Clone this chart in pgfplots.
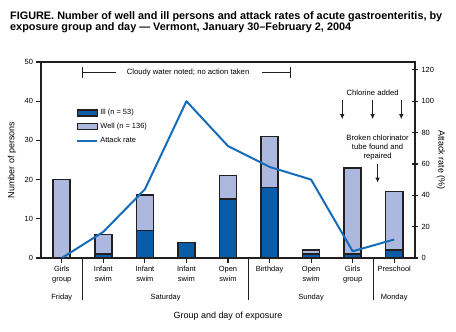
\documentclass[border=0pt]{standalone}
\usepackage{pgfplots}
\pgfplotsset{compat=1.18}
\usepackage{fontspec}
\setmainfont{Liberation Sans}
\usetikzlibrary{arrows.meta}

\definecolor{illblue}{RGB}{8,92,168}
\definecolor{wellblue}{RGB}{172,184,222}
\definecolor{ratecol}{RGB}{22,108,184}
\definecolor{edgecol}{RGB}{35,31,32}

\pgfplotsset{
  barill/.style={fill=illblue, draw=edgecol, line width=1.6bp},
  barwell/.style={fill=wellblue, draw=edgecol, line width=1.6bp},
}
\tikzset{annarrow/.style={line width=1.3bp, edgecol, -{Latex[length=5bp,width=4.5bp]}}}

\begin{document}
\begin{tikzpicture}
\path[use as bounding box] (0,0) rectangle (456bp,332bp);

% title
\node[anchor=base west, font=\bfseries\fontsize{10.9}{12}\selectfont, inner sep=0] at (10bp,312bp)
  {FIGURE. Number of well and ill persons and attack rates of acute gastroenteritis, by};
\node[anchor=base west, font=\bfseries\fontsize{10.9}{12}\selectfont, inner sep=0] at (10bp,301bp)
  {exposure group and day --- Vermont, January 30--February 2, 2004};

\begin{axis}[
    at={(41bp,74bp)}, anchor=south west,
    scale only axis, width=374bp, height=196bp,
    xmin=-0.5, xmax=8.5, ymin=0, ymax=50,
    ybar stacked, bar width=0.41,
    clip=false,
    axis line style={line width=1.2bp, edgecol},
    tick style={line width=1.2bp, edgecol},
    major tick length=4.5bp,
    tick align=outside,
    xtick pos=lower, ytick pos=left,
    xtick={0,...,8},
    xticklabels={{Girls\\group},{Infant\\swim},{Infant\\swim},{Infant\\swim},{Open\\swim},{Birthday},{Open\\swim},{Girls\\group},{Preschool}},
    xticklabel style={align=center, font=\fontsize{7.5}{10}\selectfont, yshift=-0.5bp},
    ytick={0,10,...,50},
    yticklabel style={font=\fontsize{7.5}{9}\selectfont},
    /pgf/number format/assume math mode=true,
    ylabel={Number of persons},
    ylabel style={font=\fontsize{9}{10}\selectfont, at={(rel axis cs:0,0.5)}, anchor=center, yshift=29bp},
  ]
  \addplot[barill] coordinates {(0,0) (1,1) (2,7) (3,4) (4,15) (5,18) (6,1) (7,1) (8,2)};
  \addplot[barwell] coordinates {(0,20) (1,5) (2,9) (3,0) (4,6) (5,13) (6,1) (7,22) (8,15)};

  % day separators and labels
  \draw[line width=1.2bp, edgecol] (axis cs:0.5,0) -- ([yshift=-42bp]axis cs:0.5,0);
  \draw[line width=1.2bp, edgecol] (axis cs:4.5,0) -- ([yshift=-42bp]axis cs:4.5,0);
  \draw[line width=1.2bp, edgecol] (axis cs:7.5,0) -- ([yshift=-42bp]axis cs:7.5,0);
  \node[font=\fontsize{7.5}{9}\selectfont] at ([yshift=-40bp]axis cs:0,0) {Friday};
  \node[font=\fontsize{7.5}{9}\selectfont] at ([yshift=-40bp]axis cs:2.5,0) {Saturday};
  \node[font=\fontsize{7.5}{9}\selectfont] at ([yshift=-40bp]axis cs:6,0) {Sunday};
  \node[font=\fontsize{7.5}{9}\selectfont] at ([yshift=-40bp]axis cs:8,0) {Monday};
  \node[font=\fontsize{9}{10}\selectfont] at ([yshift=-58bp]axis cs:4,0) {Group and day of exposure};

  % cloudy water bracket
  \draw[line width=0.9bp, edgecol] (axis cs:0.5,45.9) -- (axis cs:0.5,48.7);
  \draw[line width=0.9bp, edgecol] (axis cs:5.5,45.9) -- (axis cs:5.5,48.7);
  \draw[line width=0.9bp, edgecol] (axis cs:0.5,47.3) -- (axis cs:1.3,47.3);
  \draw[line width=0.9bp, edgecol] (axis cs:4.83,47.3) -- (axis cs:5.5,47.3);
  \node[font=\fontsize{7.7}{9}\selectfont] at (axis cs:3.04,47.3)
    {Cloudy water noted; no action taken};

  % chlorine annotations
  \node[font=\fontsize{7.7}{9}\selectfont] at (axis cs:7.48,42.1) {Chlorine added};
  \draw[annarrow] (axis cs:6.75,40.2) -- (axis cs:6.75,35.4);
  \draw[annarrow] (axis cs:7.48,40.2) -- (axis cs:7.48,35.4);
  \draw[annarrow] (axis cs:8.17,40.2) -- (axis cs:8.17,35.4);
  \node[align=center, font=\fontsize{7.7}{9}\selectfont] at (axis cs:7.6,28.1)
    {Broken chlorinator\\tube found and\\repaired};
  \draw[annarrow] (axis cs:7.6,23.9) -- (axis cs:7.6,19.2);
\end{axis}

\begin{axis}[
    at={(41bp,74bp)}, anchor=south west,
    scale only axis, width=374bp, height=196bp,
    xmin=-0.5, xmax=8.5, ymin=0, ymax=125,
    axis x line=none, axis y line*=right,
    axis line style={line width=1.2bp, edgecol, -},
    tick style={line width=1.2bp, edgecol},
    major tick length=6bp, tick align=center,
    ytick={0,20,...,120},
    yticklabel style={font=\fontsize{7.5}{9}\selectfont},
    /pgf/number format/assume math mode=true,
    ylabel={Attack rate (\%)},
    ylabel style={font=\fontsize{9}{10}\selectfont, at={(rel axis cs:1,0.5)}, anchor=center, rotate=-180, yshift=26bp},
    legend style={at={(rel axis cs:0.094,0.77)}, anchor=north west, draw=none, fill=none,
      font=\fontsize{7.5}{9}\selectfont, row sep=3bp, inner sep=0pt},
    legend cell align=left,
    legend image code/.code={\draw[#1] (0bp,-3bp) rectangle (20bp,3bp);},
  ]
  \addlegendimage{barill}
  \addlegendentry{Ill (n = 53)}
  \addlegendimage{barwell}
  \addlegendentry{Well (n = 136)}
  \addplot[ratecol, line width=2bp, line join=round,
    legend image code/.code={\draw[ratecol, line width=2bp] (0bp,0bp) -- (20bp,0bp);}]
    coordinates {(0,0) (1,16.7) (2,43.8) (3,100) (4,71.4) (5,58.1) (6,50) (7,4.3) (8,11.8)};
  \addlegendentry{Attack rate}
\end{axis}
\end{tikzpicture}
\end{document}
